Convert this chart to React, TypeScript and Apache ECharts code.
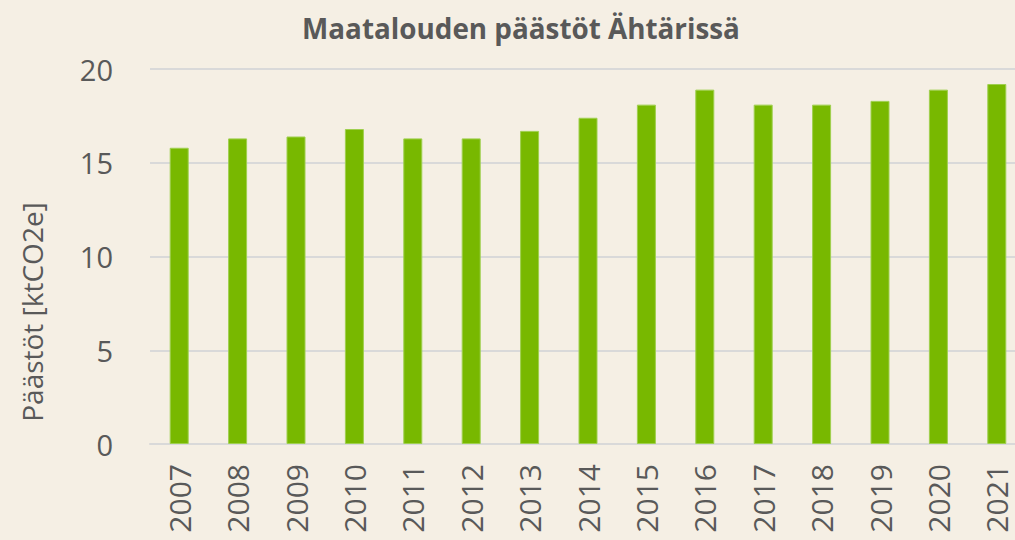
import React, { useEffect, useRef } from "react";
import * as echarts from "echarts";

const years = ["2007","2008","2009","2010","2011","2012","2013","2014","2015","2016","2017","2018","2019","2020","2021"];
const emissions = [15.8, 16.3, 16.4, 16.8, 16.3, 16.3, 16.7, 17.4, 18.1, 18.9, 18.1, 18.1, 18.3, 18.9, 19.2];
const titleText = "Maatalouden päästöt Ähtärissä";
const yName = "Päästöt [ktCO2e]";

export default function App() {
  const ref = useRef<HTMLDivElement>(null);
  useEffect(() => {
    document.body.style.margin = "0";
    document.body.style.overflow = "hidden";
    const chart = echarts.init(ref.current!, null, { renderer: "svg" });
    const font = "'Open Sans', sans-serif";
    chart.setOption({
      animation: false,
      backgroundColor: "#f5efe4",
      grid: { left: 150, top: 69, height: 375, right: 14 },
      graphic: [
        {
          type: "text",
          x: 521,
          y: 28,
          scaleX: 0.96,
          style: {
            text: titleText,
            fontFamily: font,
            fontSize: 29,
            fontWeight: "bold",
            fill: "#595959",
            align: "center",
            verticalAlign: "middle",
          },
        },
        {
          type: "text",
          x: 32,
          y: 312,
          rotation: Math.PI / 2,
          style: {
            text: yName,
            fontFamily: font,
            fontSize: 28,
            fill: "#595959",
            align: "center",
            verticalAlign: "middle",
          },
        },
      ],
      xAxis: {
        type: "category",
        data: years,
        axisLine: { show: true, lineStyle: { color: "#d9d9d9", width: 2 } },
        axisTick: { show: false },
        axisLabel: {
          rotate: 90,
          margin: 20,
          fontFamily: font,
          fontSize: 30,
          color: "#595959",
        },
      },
      yAxis: {
        type: "value",
        min: 0,
        max: 20,
        interval: 5,
        axisLine: { show: false },
        axisTick: { show: false },
        splitLine: { lineStyle: { color: "#d9d9d9", width: 2 } },
        axisLabel: {
          margin: 37,
          fontFamily: font,
          fontSize: 29,
          color: "#595959",
        },
      },
      series: [
        {
          type: "bar",
          data: emissions,
          barWidth: 19,
          itemStyle: { color: "#78b800", borderColor: "#9fcf4f", borderWidth: 1 },
        },
      ],
    });
    return () => chart.dispose();
  }, []);
  return <div ref={ref} style={{ position: "absolute", left: 0, top: 0, width: 1040, height: 540 }} />;
}
